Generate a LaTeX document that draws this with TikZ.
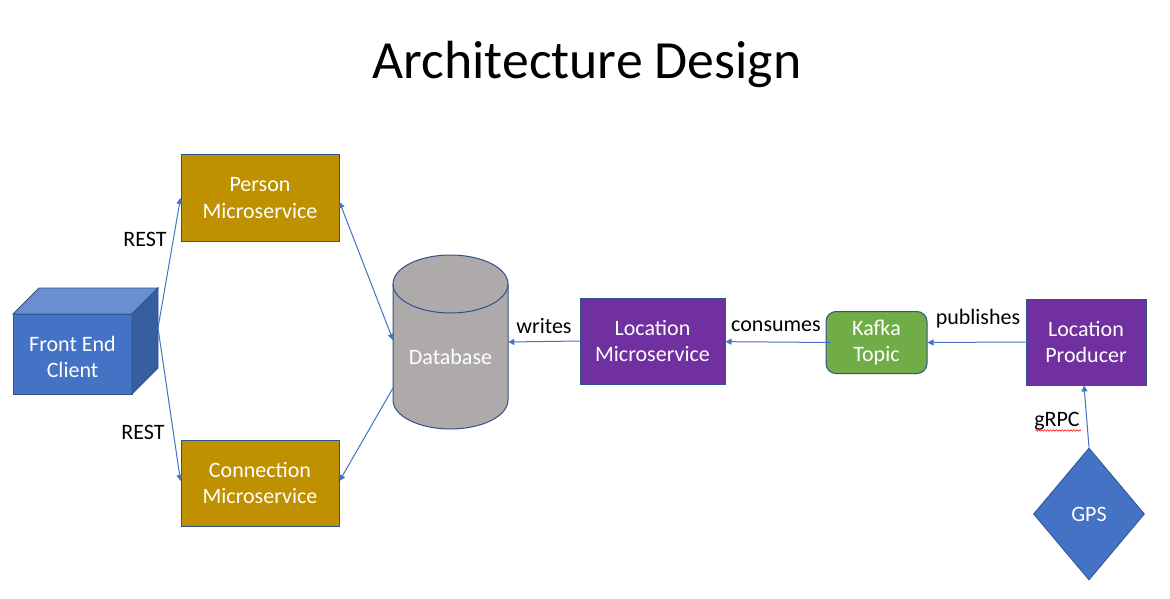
\documentclass[tikz,border=0pt]{standalone}
\usepackage{fontspec}
\setmainfont{Carlito}
\usetikzlibrary{arrows.meta,shapes.geometric,decorations.pathmorphing}
\definecolor{gold}{HTML}{BF9000}
\definecolor{purp}{HTML}{7030A0}
\definecolor{kgreen}{HTML}{70AD47}
\definecolor{oblue}{HTML}{4472C4}
\definecolor{obluelt}{HTML}{6A8FD0}
\definecolor{obluedk}{HTML}{375F9F}
\definecolor{dbgray}{HTML}{AEAAAA}
\definecolor{edge}{HTML}{2F528F}
\begin{document}
\begin{tikzpicture}[x=0.75pt,y=-0.75pt,
  box/.style={draw=edge,line width=0.75pt,text=white,align=center,inner sep=0pt,
    font=\fontsize{16.5}{20}\selectfont,minimum height=64.5pt},
  lbl/.style={font=\fontsize{16.5}{20}\selectfont,text=black,inner sep=0pt},
  conn/.style={draw=oblue,line width=0.75pt},
  tip/.style={-{Triangle[length=4.5pt,width=4.5pt]}},
  tips/.style={{Triangle[length=4.5pt,width=4.5pt]}-{Triangle[length=4.5pt,width=4.5pt]}}
]
\useasboundingbox (0,0) rectangle (1170,599);
\fill[white] (0,0) rectangle (1170,599);

% title
\node[font=\fontsize{40.3}{46}\selectfont,anchor=base] (title) at (587,79) {Architecture Design};

% front end cube
\filldraw[fill=oblue,draw=edge,line width=0.6pt] (13,314) rectangle (132,394);
\filldraw[fill=obluelt,draw=edge,line width=0.6pt] (13,314) -- (39,288) -- (158,288) -- (132,314) -- cycle;
\filldraw[fill=obluedk,draw=edge,line width=0.6pt] (132,314) -- (158,288) -- (158,368) -- (132,394) -- cycle;
\node[text=white,align=center,font=\fontsize{16.5}{20}\selectfont] (fe) at (72.5,357) {Front End\\Client};
\coordinate (fer) at (158,328);

% microservices
\node[box,fill=gold,minimum width=118.5pt] (pm) at (260,198) {Person\\Microservice};
\node[box,fill=gold,minimum width=118.5pt] (cm) at (260,483) {Connection\\Microservice};
\node[box,fill=purp,minimum width=108.75pt] (lm) at (652.5,341) {Location\\Microservice};
\node[box,fill=kgreen,minimum width=75.75pt,minimum height=46.5pt,rounded corners=7.5pt] (kt) at (876.5,342.5) {Kafka\\Topic};
\node[box,fill=purp,minimum width=90pt] (lp) at (1086,342) {Location\\Producer};
\node[diamond,draw=edge,line width=0.6pt,fill=oblue,text=white,inner sep=0pt,
  minimum width=83.25pt,minimum height=99pt,font=\fontsize{16.5}{20}\selectfont] (gps) at (1089,514) {GPS};

% database cylinder
\filldraw[fill=dbgray,draw=edge,line width=0.75pt]
  (393,284) -- (393,400) arc[start angle=180,end angle=0,x radius=57.5,y radius=29]
  -- (508,284) arc[start angle=0,end angle=-180,x radius=57.5,y radius=29] -- cycle;
\draw[edge,line width=0.75pt] (393,284) arc[start angle=180,end angle=0,x radius=57.5,y radius=29];
\node[minimum width=86.25pt,minimum height=130.5pt,inner sep=0pt] (db) at (450.5,342) {};
\node[text=white,font=\fontsize{16.5}{20}\selectfont] (dbt) at (450.5,357) {Database};
\coordinate (dbl1) at (393,340);
\coordinate (dbl2) at (393,388);

% connectors
\draw[conn,tip] (fer) -- (pm.west);
\draw[conn,tip] (fer) -- ([yshift=1.5pt]cm.west);
\draw[conn,tips] ([yshift=-3pt]pm.east) -- (dbl1);
\draw[conn,tip] (dbl2) -- ([yshift=1.5pt]cm.east);
\draw[conn,tip] (lm.west) -- (db.east);
\draw[conn,tip] ([xshift=4pt]kt.west) -- ([yshift=-0.5pt]lm.east);
\draw[conn,tip] (lp.west) -- (kt.east);
\draw[conn,tip] (gps.north) -- ([xshift=-1.5pt]lp.south);

% labels
\node[lbl] (l1) at (145,239) {REST};
\node[lbl] (l2) at (143,432) {REST};
\node[lbl] (l3) at (544,326) {writes};
\node[lbl] (l4) at (776,326) {consumes};
\node[lbl] (l5) at (978,319) {publishes};
\node[lbl] (l6) at (1057,421) {gRPC};
\draw[red,line width=0.4pt,decorate,decoration={snake,amplitude=0.6pt,segment length=2.2pt}]
  (1035,430.5) -- (1081,430.5);
\end{tikzpicture}
\end{document}
